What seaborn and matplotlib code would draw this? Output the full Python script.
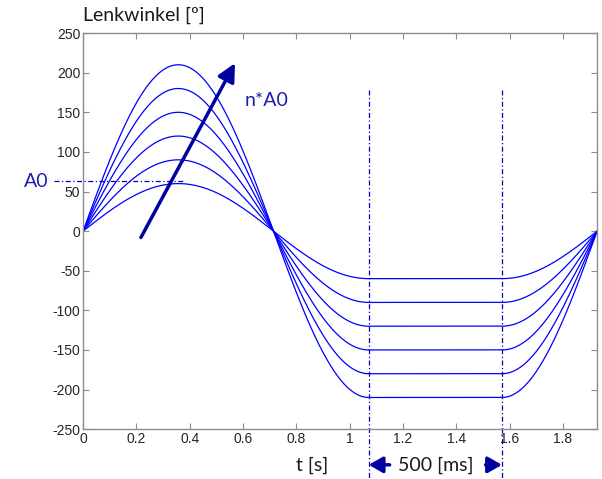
import numpy as np
import pandas as pd
import matplotlib
matplotlib.use("Agg")
import matplotlib.pyplot as plt
import seaborn as sns

# Sine-with-dwell steering input
amplitudes = [60, 90, 120, 150, 180, 210]   # peak steering angle [deg]
freq = 0.7                                  # Hz
dwell = 0.5                                 # s
x_ticks = [0, 0.2, 0.4, 0.6, 0.8, 1, 1.2, 1.4, 1.6, 1.8]
x_labels = ["0", "0.2", "0.4", "0.6", "0.8", "1", "1.2", "1.4", "1.6", "1.8"]
y_ticks = [-250, -200, -150, -100, -50, 0, 50, 100, 150, 200, 250]
a0_level = 63

# Zeitverlauf
t_peak = 0.75 / freq
t_dwell_end = t_peak + dwell
t_end = t_dwell_end + 0.25 / freq
t = np.linspace(0, t_end, 800)

rows = []
for amp in amplitudes:
    y = np.where(
        t < t_peak,
        amp * np.sin(2 * np.pi * freq * t),
        np.where(
            t < t_dwell_end,
            -amp,
            amp * np.sin(2 * np.pi * freq * (t - dwell))
        )
    )
    rows.append(pd.DataFrame({"t": t, "angle": y, "amp": amp}))
df = pd.concat(rows, ignore_index=True)

sns.set_theme(style="white")
plt.rcParams["font.family"] = ["Liberation Sans", "DejaVu Sans"]
plt.rcParams["axes.unicode_minus"] = False

fig = plt.figure(figsize=(6.02, 4.79), dpi=100)
ax = fig.add_axes([0.138, 0.104, 0.854, 0.827])

sns.lineplot(
    data=df, x="t", y="angle", hue="amp",
    palette=["#0000ff"] * len(amplitudes),
    linewidth=0.9, legend=False, ax=ax
)

ax.set_xlim(0, t_end)
ax.set_ylim(-250, 250)
ax.set_xticks(x_ticks)
ax.set_xticklabels(x_labels)
ax.set_yticks(y_ticks)
ax.set_xlabel("")
ax.set_ylabel("")
ax.tick_params(
    direction="in", length=4, width=0.8, color="#8c8c8c",
    labelsize=10, labelcolor="#262626",
    top=True, right=True, bottom=True, left=True, pad=2
)
for spine in ax.spines.values():
    spine.set_color("#8c8c8c")
    spine.set_linewidth(1.0)

blue_dark = "#0000b0"
txt_blue = "#1c1cb0"
dashdot = (0, (4, 2, 1, 2))

# Verweilzeit-Markierungen
for xv in [t_peak, t_dwell_end]:
    ax.plot([xv, xv], [178, -315], color=blue_dark, lw=0.9,
            linestyle=dashdot, clip_on=False)

# A0 Linie
ax.plot([-0.11, 0.375], [a0_level, a0_level], color=blue_dark, lw=0.9,
        linestyle=dashdot, clip_on=False)
ax.text(-0.22, a0_level, "A0", color=txt_blue, fontsize=14,
        family=["Lato", "DejaVu Sans"], ha="left", va="center")

# Pfeil n*A0
ax.annotate(
    "", xy=(0.57, 212), xytext=(0.217, -8),
    arrowprops=dict(arrowstyle="-|>,head_length=0.9,head_width=0.45",
                    color="#0000a0", lw=2.5, shrinkA=0, shrinkB=0)
)
ax.text(0.607, 165, "n*A0", color=txt_blue, fontsize=14,
        family=["Lato", "DejaVu Sans"], ha="left", va="center")

# 500 ms Pfeile
ax.annotate(
    "", xy=(t_peak, -295), xytext=(1.15, -295), annotation_clip=False,
    arrowprops=dict(arrowstyle="-|>,head_length=0.7,head_width=0.4",
                    color="#0000a0", lw=2.5, shrinkA=0, shrinkB=0)
)
ax.annotate(
    "", xy=(t_dwell_end, -295), xytext=(1.51, -295), annotation_clip=False,
    arrowprops=dict(arrowstyle="-|>,head_length=0.7,head_width=0.4",
                    color="#0000a0", lw=2.5, shrinkA=0, shrinkB=0)
)
ax.text(1.322, -295, "500 [ms]", fontsize=14, color="#1a1a1a",
        family=["Lato", "DejaVu Sans"], ha="center", va="center", clip_on=False)
ax.text(0.86, -295, "t [s]", fontsize=14, color="#1a1a1a",
        family=["Lato", "DejaVu Sans"], ha="center", va="center", clip_on=False)

fig.text(0.138, 0.968, "Lenkwinkel [º]", fontsize=14, color="#1a1a1a",
         family=["Lato", "DejaVu Sans"], ha="left", va="center")

fig.savefig("out.png", dpi=100)
